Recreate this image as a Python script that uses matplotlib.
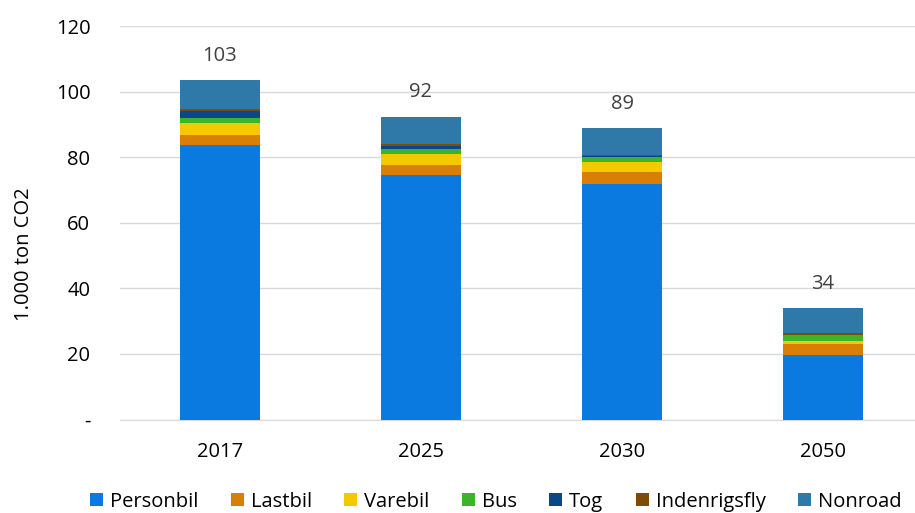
import matplotlib
matplotlib.use("Agg")
import matplotlib.pyplot as plt
import numpy as np

years = ["2017", "2025", "2030", "2050"]
personbil = [83.8, 74.6, 71.9, 19.7]
lastbil = [2.9, 3.0, 3.5, 3.35]
varebil = [3.7, 3.4, 3.1, 0.9]
bus = [1.6, 1.5, 1.7, 1.7]
tog = [2.1, 0.8, 0.1, 0.1]
indenrigsfly = [0.5, 0.6, 0.5, 0.6]
nonroad = [8.8, 8.5, 8.2, 7.7]
totals_labels = ["103", "92", "89", "34"]

series = [
    ("Personbil", personbil, "#0a7ae0"),
    ("Lastbil", lastbil, "#d97e06"),
    ("Varebil", varebil, "#f4c900"),
    ("Bus", bus, "#3bb42c"),
    ("Tog", tog, "#06488a"),
    ("Indenrigsfly", indenrigsfly, "#7d4b06"),
    ("Nonroad", nonroad, "#2e79a8"),
]

plt.rcParams['font.family'] = ['Open Sans', 'DejaVu Sans']
FS = 14.5

fig = plt.figure(figsize=(9.15, 5.13), dpi=100)
ax = fig.add_axes([119.5 / 915, (513 - 419.5) / 513, 804 / 915, (419.5 - 26) / 513])

x = np.arange(len(years))
bottom = np.zeros(len(years))
for name, vals, col in series:
    ax.bar(x, vals, width=0.4, bottom=bottom, color=col, label=name, zorder=3)
    bottom += np.array(vals)

for xi, tot, lab in zip(x, bottom, totals_labels):
    ax.text(xi, tot + 4.3, lab, ha="center", va="bottom", fontsize=FS, color="#404040")

ax.set_xlim(-0.5, 3.5)
ax.set_ylim(0, 120)
ax.set_yticks(range(0, 121, 20))
ax.set_yticklabels(["-"] + [str(v) for v in range(20, 121, 20)])
ax.set_xticks(x)
ax.set_xticklabels(years)
ax.grid(axis="y", color="#d9d9d9", linewidth=1, zorder=0)
for s in ["top", "right", "left"]:
    ax.spines[s].set_visible(False)
ax.spines["bottom"].set_color("#d9d9d9")
ax.tick_params(axis="both", length=0, labelsize=FS, colors="#000000")
ax.tick_params(axis="y", pad=21)
ax.tick_params(axis="x", pad=16)
ax.set_ylabel("1.000 ton CO2", fontsize=FS)
ax.yaxis.set_label_coords(-0.106, 0.42)

handles, labels = ax.get_legend_handles_labels()
fig.legend(handles, labels, loc="center left", bbox_to_anchor=(90 / 915, 0.022), ncol=7,
           frameon=False, fontsize=FS, handlelength=0.65, handleheight=0.65,
           handletextpad=0.35, columnspacing=1.6, borderpad=0, borderaxespad=0)

fig.savefig("out.png", dpi=100)
